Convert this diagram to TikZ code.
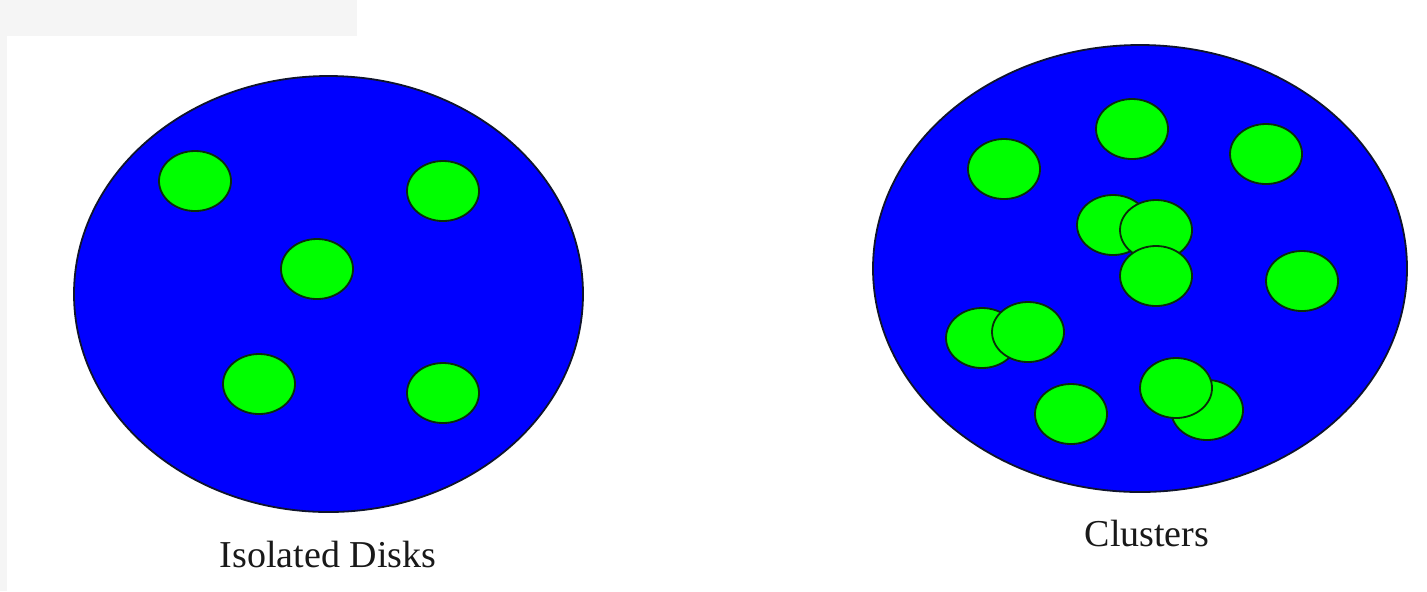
\documentclass[tikz,border=0pt]{standalone}
\usepackage{fontspec}
\setmainfont{Liberation Serif}
\usetikzlibrary{shapes}
\definecolor{plateblue}{RGB}{0, 0, 255}
\definecolor{diskgreen}{RGB}{0, 255, 0}
\definecolor{rimdark}{RGB}{15, 20, 45}
\definecolor{diskrim}{RGB}{10, 45, 10}
\definecolor{edgegray}{RGB}{245, 245, 245}

\begin{document}
\begin{tikzpicture}[
    x=0.5pt, y=-0.5pt,
    plate/.style={ellipse, draw=rimdark, fill=plateblue, line width=0.9pt, inner sep=0pt},
    disk/.style={ellipse, draw=diskrim, fill=diskgreen, line width=0.9pt,
        minimum width=36pt, minimum height=30pt, inner sep=0pt},
    caption/.style={font=\fontsize{19}{22}\selectfont, text=black!90, anchor=base}
]
    \useasboundingbox[fill=white] (0,0) rectangle (1427,591);
    \fill[edgegray] (0,0) rectangle (357,36);
    \fill[edgegray] (0,0) rectangle (7,591);

    % left: isolated disks
    \node[plate, minimum width=254.5pt, minimum height=218pt] (isoplate) at (328.5,294) {};
    \node[disk] (iso1) at (195,181) {};
    \node[disk] (iso2) at (443,191) {};
    \node[disk] (iso3) at (317,269) {};
    \node[disk] (iso4) at (259,384) {};
    \node[disk] (iso5) at (443,393) {};
    \node[caption] (isolab) at (328,567) {Isolated Disks};

    % right: clusters
    \node[plate, minimum width=267pt, minimum height=223.5pt] (cluplate) at (1140,268.5) {};
    \node[disk] (clu1) at (1004,169) {};
    \node[disk] (clu2) at (1132,129) {};
    \node[disk] (clu3) at (1266,154) {};
    \node[disk] (clu4) at (1113,225) {};
    \node[disk] (clu5) at (1156,230) {};
    \node[disk] (clu6) at (1156,276) {};
    \node[disk] (clu7) at (1302,281) {};
    \node[disk] (clu8) at (982,338) {};
    \node[disk] (clu9) at (1028,332) {};
    \node[disk] (clu10) at (1071,414) {};
    \node[disk] (clu11) at (1207,410) {};
    \node[disk] (clu12) at (1176,388) {};
    \node[caption] (clulab) at (1147,546) {Clusters};
\end{tikzpicture}
\end{document}
